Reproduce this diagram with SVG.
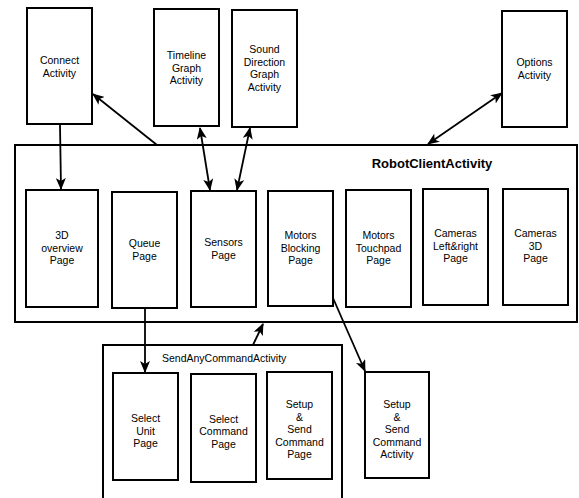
<svg xmlns="http://www.w3.org/2000/svg" width="579" height="498" viewBox="0 0 579 498">
<defs>
<style>
.box{fill:#fff;stroke:#000;stroke-width:2}
.cont{fill:none;stroke:#000;stroke-width:2}
.t{font-family:"Liberation Sans",Arial,sans-serif;font-size:10.5px;fill:#000;text-anchor:middle}
.title{font-family:"Liberation Sans",Arial,sans-serif;font-size:13px;font-weight:bold;fill:#000;text-anchor:middle}
.sub{font-family:"Liberation Sans",Arial,sans-serif;font-size:10.5px;fill:#000}
.c{fill:none;stroke:#000;stroke-width:1.8}
</style>
<marker id="ah" markerUnits="userSpaceOnUse" markerWidth="12" markerHeight="10" refX="11" refY="5" orient="auto-start-reverse" viewBox="0 0 12 10">
<path d="M0,0 L12,5 L0,10 L3,5 z" fill="#000"/>
</marker>
</defs>
<rect width="579" height="498" fill="#fff"/>

<g id="robotClientActivity">
<rect class="cont" x="15" y="145" width="562" height="177"/>
<text class="title" x="432" y="168">RobotClientActivity</text>
</g>
<g id="sendAnyCommandActivity">
<rect class="cont" x="103" y="345" width="239" height="165"/>
<text class="sub" x="162" y="362">SendAnyCommandActivity</text>
</g>

<g id="connectActivity">
<rect class="box" x="27" y="8" width="65" height="116"/>
<text class="t" x="59.5" y="64">Connect</text>
<text class="t" x="59.5" y="77">Activity</text>
</g>
<g id="timelineGraphActivity">
<rect class="box" x="154" y="9" width="65" height="117"/>
<text class="t" x="186.5" y="59">Timeline</text>
<text class="t" x="186.5" y="71.5">Graph</text>
<text class="t" x="186.5" y="84">Activity</text>
</g>
<g id="soundDirectionGraphActivity">
<rect class="box" x="232" y="10" width="65" height="117"/>
<text class="t" x="264.5" y="53">Sound</text>
<text class="t" x="264.5" y="65.5">Direction</text>
<text class="t" x="264.5" y="78">Graph</text>
<text class="t" x="264.5" y="90.5">Activity</text>
</g>
<g id="optionsActivity">
<rect class="box" x="502" y="11" width="65" height="116"/>
<text class="t" x="534.5" y="66">Options</text>
<text class="t" x="534.5" y="79">Activity</text>
</g>

<g id="overview3DPage">
<rect class="box" x="26" y="190" width="72" height="117"/>
<text class="t" x="62" y="239">3D</text>
<text class="t" x="62" y="251.5">overview</text>
<text class="t" x="62" y="264">Page</text>
</g>
<g id="queuePage">
<rect class="box" x="112" y="192" width="65" height="116"/>
<text class="t" x="144.5" y="247">Queue</text>
<text class="t" x="144.5" y="259.5">Page</text>
</g>
<g id="sensorsPage">
<rect class="box" x="191" y="191" width="65" height="116"/>
<text class="t" x="223.5" y="246">Sensors</text>
<text class="t" x="223.5" y="258.5">Page</text>
</g>
<g id="motorsBlockingPage">
<rect class="box" x="268" y="191" width="65" height="115"/>
<text class="t" x="300.5" y="239">Motors</text>
<text class="t" x="300.5" y="251.5">Blocking</text>
<text class="t" x="300.5" y="264">Page</text>
</g>
<g id="motorsTouchpadPage">
<rect class="box" x="346" y="190" width="65" height="117"/>
<text class="t" x="378.5" y="239">Motors</text>
<text class="t" x="378.5" y="251.5">Touchpad</text>
<text class="t" x="378.5" y="264">Page</text>
</g>
<g id="camerasLeftRightPage">
<rect class="box" x="423" y="189" width="65" height="116"/>
<text class="t" x="455.5" y="237">Cameras</text>
<text class="t" x="455.5" y="249.5">Left&amp;right</text>
<text class="t" x="455.5" y="262">Page</text>
</g>
<g id="cameras3DPage">
<rect class="box" x="503" y="189" width="65" height="116"/>
<text class="t" x="535.5" y="237">Cameras</text>
<text class="t" x="535.5" y="249.5">3D</text>
<text class="t" x="535.5" y="262">Page</text>
</g>

<g id="selectUnitPage">
<rect class="box" x="113" y="373" width="65" height="107"/>
<text class="t" x="145.5" y="422">Select</text>
<text class="t" x="145.5" y="434.5">Unit</text>
<text class="t" x="145.5" y="447">Page</text>
</g>
<g id="selectCommandPage">
<rect class="box" x="191" y="374" width="65" height="108"/>
<text class="t" x="223.5" y="422.5">Select</text>
<text class="t" x="223.5" y="435">Command</text>
<text class="t" x="223.5" y="447.5">Page</text>
</g>
<g id="setupSendCommandPage">
<rect class="box" x="267" y="372" width="65" height="107"/>
<text class="t" x="299.5" y="408">Setup</text>
<text class="t" x="299.5" y="420.5">&amp;</text>
<text class="t" x="299.5" y="433">Send</text>
<text class="t" x="299.5" y="445.5">Command</text>
<text class="t" x="299.5" y="458">Page</text>
</g>
<g id="setupSendCommandActivity">
<rect class="box" x="365" y="372" width="64" height="106"/>
<text class="t" x="397" y="408">Setup</text>
<text class="t" x="397" y="420.5">&amp;</text>
<text class="t" x="397" y="433">Send</text>
<text class="t" x="397" y="445.5">Command</text>
<text class="t" x="397" y="458">Activity</text>
</g>

<g id="connectors">
<line class="c" x1="157" y1="145" x2="93" y2="94" marker-end="url(#ah)"/>
<line class="c" x1="60" y1="125" x2="61" y2="189" marker-end="url(#ah)"/>
<line class="c" x1="200" y1="128" x2="210" y2="190" marker-start="url(#ah)" marker-end="url(#ah)"/>
<line class="c" x1="250" y1="128" x2="237" y2="190" marker-start="url(#ah)" marker-end="url(#ah)"/>
<line class="c" x1="428" y1="144" x2="502" y2="93" marker-start="url(#ah)" marker-end="url(#ah)"/>
<line class="c" x1="145" y1="309" x2="145" y2="372" marker-end="url(#ah)"/>
<line class="c" x1="253" y1="345" x2="263" y2="324" marker-end="url(#ah)"/>
<line class="c" x1="333" y1="298" x2="365" y2="371" marker-end="url(#ah)"/>
</g>
</svg>
